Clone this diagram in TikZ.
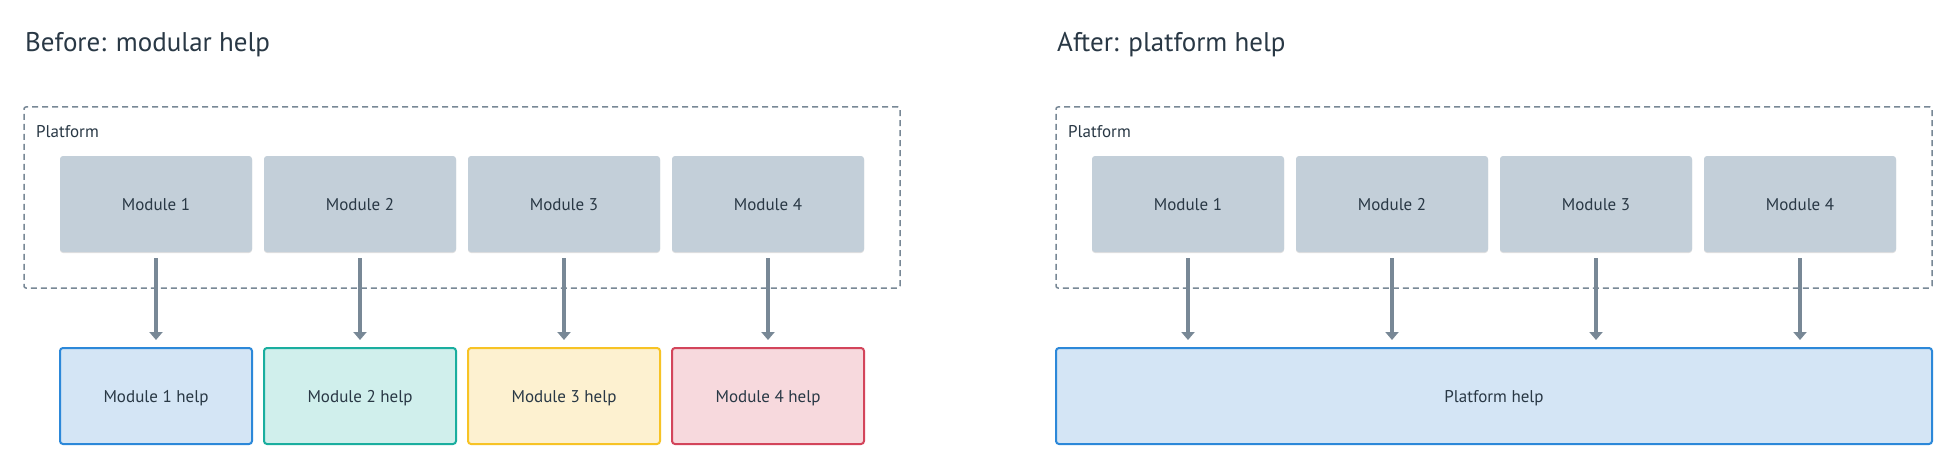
\documentclass[tikz,border=0pt]{standalone}
\usepackage{fontspec}
\setmainfont{PT Sans}
\usetikzlibrary{
  arrows.meta,
  positioning,
  shadows,
}
\definecolor{ink}{HTML}{293845}
\definecolor{wire}{HTML}{788896}
\definecolor{modfill}{HTML}{C3CFD9}
\definecolor{bluefill}{HTML}{D4E5F5}
\definecolor{blueline}{HTML}{2C88D9}
\definecolor{tealfill}{HTML}{D0EFEC}
\definecolor{tealline}{HTML}{1AAE9F}
\definecolor{amberfill}{HTML}{FDF1D0}
\definecolor{amberline}{HTML}{F7C325}
\definecolor{rosefill}{HTML}{F7D9DD}
\definecolor{roseline}{HTML}{D3455B}
\tikzset{
  >={Triangle[width=13pt,length=8pt]},
  module/.style={fill=modfill, rounded corners=3pt, inner sep=0pt,
    minimum width=192pt, minimum height=96pt, text=ink,
    text height=12pt, text depth=0pt,
    font=\fontsize{17}{20}\selectfont},
  modshadow/.style={drop shadow={shadow xshift=0pt, shadow yshift=-1pt,
    opacity=.12, fill=black}},
  helpbox/.style={module, draw, line width=2pt},
  platform/.style={draw=wire, line width=1.5pt, dash pattern=on 6pt off 4pt,
    rounded corners=2pt, inner sep=0pt},
  flow/.style={->, draw=wire, line width=4pt, shorten <=6pt, shorten >=7pt},
  title/.style={anchor=base west, text=ink, inner sep=0pt,
    font=\fontsize{27}{32}\selectfont},
  tag/.style={anchor=base west, text=ink, inner sep=0pt,
    font=\fontsize{17}{20}\selectfont},
}

\begin{document}
\begin{tikzpicture}[x=1pt, y=-1pt]
  \useasboundingbox[fill=white] (0,0) rectangle (1956,468);

  % before: modular help
  \node[title] (tbefore) at (25,52) {Before: modular help};
  \node[platform, minimum width=876pt, minimum height=181pt] (platL) at (462,197.5) {};
  \node[tag] (platLtag) at (36,138) {Platform};
  \foreach \i in {1,...,4}
  {
    \node[module, modshadow] (m\i) at ({156+(\i-1)*204},204) {Module \i};
  }
  \foreach \i/\c in {1/blue,2/teal,3/amber,4/rose}
  {
    \node[helpbox, fill=\c fill, draw=\c line] (h\i) at ({156+(\i-1)*204},396) {Module \i\ help};
    \draw[flow] (m\i) -- (h\i);
  }

  % after: platform help
  \node[title] (tafter) at (1057,52) {After: platform help};
  \node[platform, minimum width=876pt, minimum height=181pt] (platR) at (1494,197.5) {};
  \node[tag] (platRtag) at (1068,138) {Platform};
  \node[helpbox, fill=bluefill, draw=blueline, minimum width=876pt] (ph) at (1494,396) {Platform help};
  \foreach \i in {1,...,4}
  {
    \node[module, modshadow] (pm\i) at ({1188+(\i-1)*204},204) {Module \i};
    \draw[flow] (pm\i) -- (pm\i |- ph.north);
  }
\end{tikzpicture}
\end{document}
